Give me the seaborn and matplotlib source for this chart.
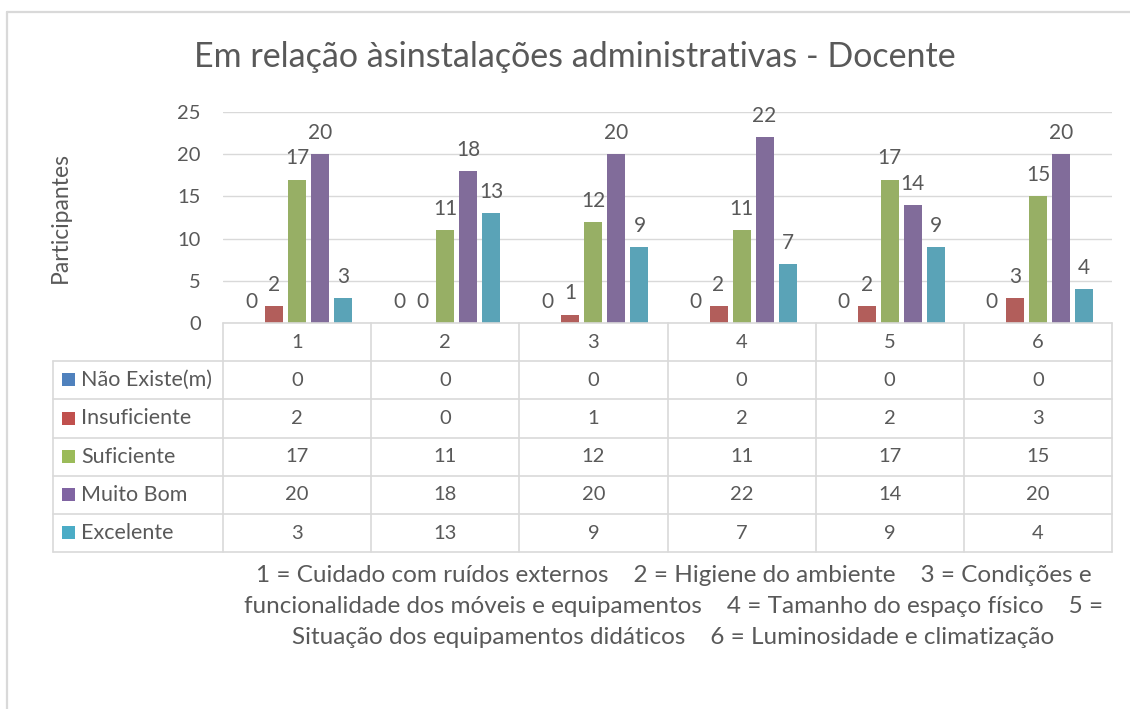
import matplotlib
matplotlib.use("Agg")
import matplotlib.pyplot as plt
import pandas as pd
import seaborn as sns
from matplotlib.lines import Line2D
from matplotlib.patches import Rectangle
from matplotlib.transforms import Affine2D

# ---------------------------------------------------------------------------
# data
# ---------------------------------------------------------------------------
ITEMS = ["1", "2", "3", "4", "5", "6"]
SERIES = ["Não Existe(m)", "Insuficiente", "Suficiente", "Muito Bom", "Excelente"]
NAO_EXISTE = [0, 0, 0, 0, 0, 0]
INSUFICIENTE = [2, 0, 1, 2, 2, 3]
SUFICIENTE = [17, 11, 12, 11, 17, 15]
MUITO_BOM = [20, 18, 20, 22, 14, 20]
EXCELENTE = [3, 13, 9, 7, 9, 4]
Y_TICKS = [0, 5, 10, 15, 20, 25]

TITLE = "Em relação àsinstalações administrativas - Docente"
YLABEL = "Participantes"
FOOTNOTE = [
    "1 = Cuidado com ruídos externos    2 = Higiene do ambiente    3 = Condições e",
    "funcionalidade dos móveis e equipamentos    4 = Tamanho do espaço físico    5 =",
    "Situação dos equipamentos didáticos    6 = Luminosidade e climatização",
]

# Excel 2010 office palette
PALETTE = dict(zip(SERIES, ["#4F81BD", "#C0504D", "#9BBB59", "#8064A2", "#4BACC6"]))
TEXT = "#595959"
GRID = "#D9D9D9"

# layout in pixels (origin top-left)
W, H = 1130, 709
PLOT_L, PLOT_R = 223, 1112
PLOT_TOP, PLOT_BOT = 112, 323
TABLE_L = 53
ROW_H = 38.2

values = [NAO_EXISTE, INSUFICIENTE, SUFICIENTE, MUITO_BOM, EXCELENTE]
df = pd.DataFrame(
    [(item, s, v[i]) for s, v in zip(SERIES, values) for i, item in enumerate(ITEMS)],
    columns=["item", "serie", "valor"],
)

sns.set_theme(style="white")
plt.rcParams["font.family"] = ["Lato", "DejaVu Sans"]

fig = plt.figure(figsize=(W / 100, H / 100), dpi=100)
ax = fig.add_axes([PLOT_L / W, 1 - PLOT_BOT / H,
                   (PLOT_R - PLOT_L) / W, (PLOT_BOT - PLOT_TOP) / H])

sns.barplot(data=df, x="item", y="valor", hue="serie", order=ITEMS,
            hue_order=SERIES, palette=PALETTE, width=0.777, gap=0.22,
            linewidth=0, legend=False, ax=ax)

for cont in ax.containers:
    ax.bar_label(cont, labels=[f"{v:g}" for v in cont.datavalues],
                 padding=8, fontsize=15, color=TEXT)

ax.set_xlim(-0.5, len(ITEMS) - 0.5)
ax.set_ylim(0, 25)
ax.set_yticks(Y_TICKS)
ax.tick_params(axis="y", length=0, pad=16, labelsize=14.5, labelcolor=TEXT)
ax.set_xticks([])
ax.set_xlabel("")
ax.set_ylabel(YLABEL, fontsize=16.5, color=TEXT)
ax.yaxis.set_label_coords(-152 / (PLOT_R - PLOT_L), 0.5)
ax.grid(axis="y", color=GRID, linewidth=1)
ax.set_axisbelow(True)
for s in ax.spines.values():
    s.set_visible(False)

# pixel transform, top-left origin
px = Affine2D().scale(1, -1).translate(0, H)


def hline(x0, x1, y):
    fig.add_artist(Line2D([x0, x1], [y, y], transform=px, color=GRID, linewidth=1.2))


def vline(x, y0, y1):
    fig.add_artist(Line2D([x, x], [y0, y1], transform=px, color=GRID, linewidth=1.2))


# data table under the axis
col_w = (PLOT_R - PLOT_L) / len(ITEMS)
table_bot = PLOT_BOT + ROW_H * (len(SERIES) + 1)
hline(PLOT_L, PLOT_R, PLOT_BOT)
for r in range(1, len(SERIES) + 2):
    hline(TABLE_L, PLOT_R, PLOT_BOT + ROW_H * r)
for c in range(len(ITEMS) + 1):
    vline(PLOT_L + col_w * c, PLOT_BOT, table_bot)
vline(TABLE_L, PLOT_BOT + ROW_H, table_bot)

for c, item in enumerate(ITEMS):
    fig.text(PLOT_L + col_w * (c + 0.5), PLOT_BOT + ROW_H * 0.5, item,
             transform=px, ha="center", va="center", fontsize=14.5, color=TEXT)
for r, (name, vals) in enumerate(zip(SERIES, values), start=1):
    yc = PLOT_BOT + ROW_H * (r + 0.5)
    fig.add_artist(Rectangle((62, yc - 7), 13, 13, transform=px,
                             facecolor=PALETTE[name], edgecolor="none"))
    fig.text(81, yc, name, transform=px, ha="left", va="center",
             fontsize=15.5, color=TEXT)
    for c, v in enumerate(vals):
        fig.text(PLOT_L + col_w * (c + 0.5), yc, f"{v:g}", transform=px,
                 ha="center", va="center", fontsize=14.5, color=TEXT)

# footnote with the item legend
for i, line in enumerate(FOOTNOTE):
    fig.text((PLOT_L + PLOT_R) / 2 + 6, 575 + 31.5 * i, line, transform=px,
             ha="center", va="center", fontsize=17.5, color=TEXT)

fig.text(575, 57, TITLE, transform=px, ha="center",
         va="center", fontsize=24.5, color=TEXT)

# chart area border (only top and left visible in the crop)
fig.add_artist(Line2D([7, W], [12, 12], transform=px, color=GRID, linewidth=1.6))
fig.add_artist(Line2D([7, 7], [12, H], transform=px, color=GRID, linewidth=1.6))

fig.savefig("out.png", dpi=100)
